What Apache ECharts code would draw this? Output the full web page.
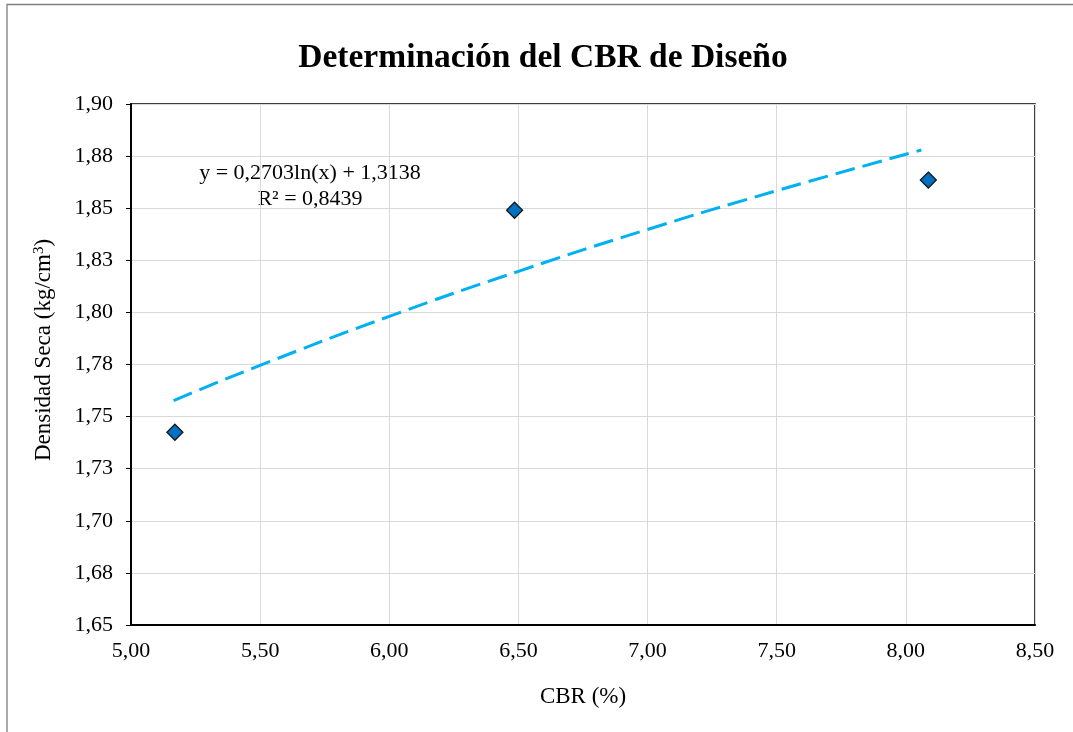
<!DOCTYPE html>
<html>
<head>
<meta charset="utf-8">
<script src="https://cdn.jsdelivr.net/npm/echarts@6/dist/echarts.min.js"></script>
<style>html,body{margin:0;padding:0;background:#fff}#c{width:1073px;height:732px}</style>
</head>
<body>
<div id="c"></div>
<script>
// Data
const cbrValues = [5.17, 6.485, 8.087];
const densityValues = [1.7425, 1.849, 1.8635];
// Logarithmic trendline (y = 0,2703ln(x) + 1,3138) values
const trendX = [5.165, 5.5, 6.0, 6.5, 7.0, 7.5, 8.06];
const trendY = [1.7577, 1.7746, 1.7981, 1.8197, 1.8398, 1.8584, 1.8779];
const yTickLabels = ['1,65','1,68','1,70','1,73','1,75','1,78','1,80','1,83','1,85','1,88','1,90'];
const xTickLabels = ['5,00','5,50','6,00','6,50','7,00','7,50','8,00','8,50'];
const titleText = 'Determinación del CBR de Diseño';
const xAxisName = 'CBR (%)';
const yAxisName = 'Densidad Seca (kg/cm{sup|3})';
const equationLines = ['y = 0,2703ln(x) + 1,3138', 'R² = 0,8439'];

const FONT = '"Liberation Serif", "Times New Roman", serif';
const chart = echarts.init(document.getElementById('c'), null, {renderer: 'canvas'});

const points = cbrValues.map((x, i) => [x, densityValues[i]]);
const trend = trendX.map((x, i) => [x, trendY[i]]);

chart.setOption({
  animation: false,
  backgroundColor: '#fff',
  grid: {left: 131, right: 38, top: 104, bottom: 107, show: true, borderColor: '#000', borderWidth: 1.5, containLabel: false},
  xAxis: {
    type: 'value', min: 5, max: 8.5, interval: 0.5,
    name: xAxisName, nameLocation: 'middle', nameGap: 60,
    nameTextStyle: {fontFamily: FONT, fontSize: 23, color: '#000'},
    axisLine: {show: true, onZero: false, lineStyle: {color: '#000', width: 2}},
    axisTick: {show: false},
    axisLabel: {margin: 15, fontFamily: FONT, fontSize: 22, color: '#000',
      formatter: v => xTickLabels[Math.round((v - 5) / 0.5)]},
    splitLine: {show: true, lineStyle: {color: '#d9d9d9', width: 1}}
  },
  yAxis: {
    type: 'value', min: 1.65, max: 1.90, interval: 0.025,
    axisLine: {show: true, onZero: false, lineStyle: {color: '#000', width: 2}},
    axisTick: {show: true, length: 5, lineStyle: {color: '#000', width: 1}},
    axisLabel: {margin: 18, fontFamily: FONT, fontSize: 22, color: '#000',
      formatter: v => yTickLabels[Math.round((v - 1.65) / 0.025)]},
    splitLine: {show: true, lineStyle: {color: '#d9d9d9', width: 1}}
  },
  series: [
    {
      type: 'line', data: trend, smooth: true, symbol: 'none',
      lineStyle: {color: '#00B0F0', width: 3, type: [20, 8]}, z: 2
    },
    {
      type: 'scatter', data: points, symbol: 'diamond', symbolSize: 16,
      itemStyle: {color: '#0070C0', borderColor: '#101820', borderWidth: 1.3, opacity: 1}, z: 3
    }
  ],
  graphic: [
    {type: 'rect', shape: {x: 7, y: 4.5, width: 1100, height: 800},
      style: {fill: 'none', stroke: '#7f7f7f', lineWidth: 1.3}, silent: true},
    {type: 'text', x: 543, y: 58, style: {text: titleText, font: 'bold 33.5px ' + FONT, fill: '#000', textAlign: 'center', textVerticalAlign: 'middle'}},
    {type: 'text', x: 44, y: 350, rotation: Math.PI / 2,
      style: {text: yAxisName, font: '23px ' + FONT, fill: '#000', textAlign: 'center', textVerticalAlign: 'middle',
        rich: {sup: {font: '15px ' + FONT, fill: '#000', padding: [0, 0, 10, 0]}}}},
    {type: 'text', x: 310, y: 173, style: {text: equationLines[0], font: '22px ' + FONT, fill: '#000', textAlign: 'center', textVerticalAlign: 'middle'}},
    {type: 'text', x: 310, y: 199, style: {text: equationLines[1], font: '22px ' + FONT, fill: '#000', textAlign: 'center', textVerticalAlign: 'middle'}}
  ]
});
</script>
</body>
</html>
